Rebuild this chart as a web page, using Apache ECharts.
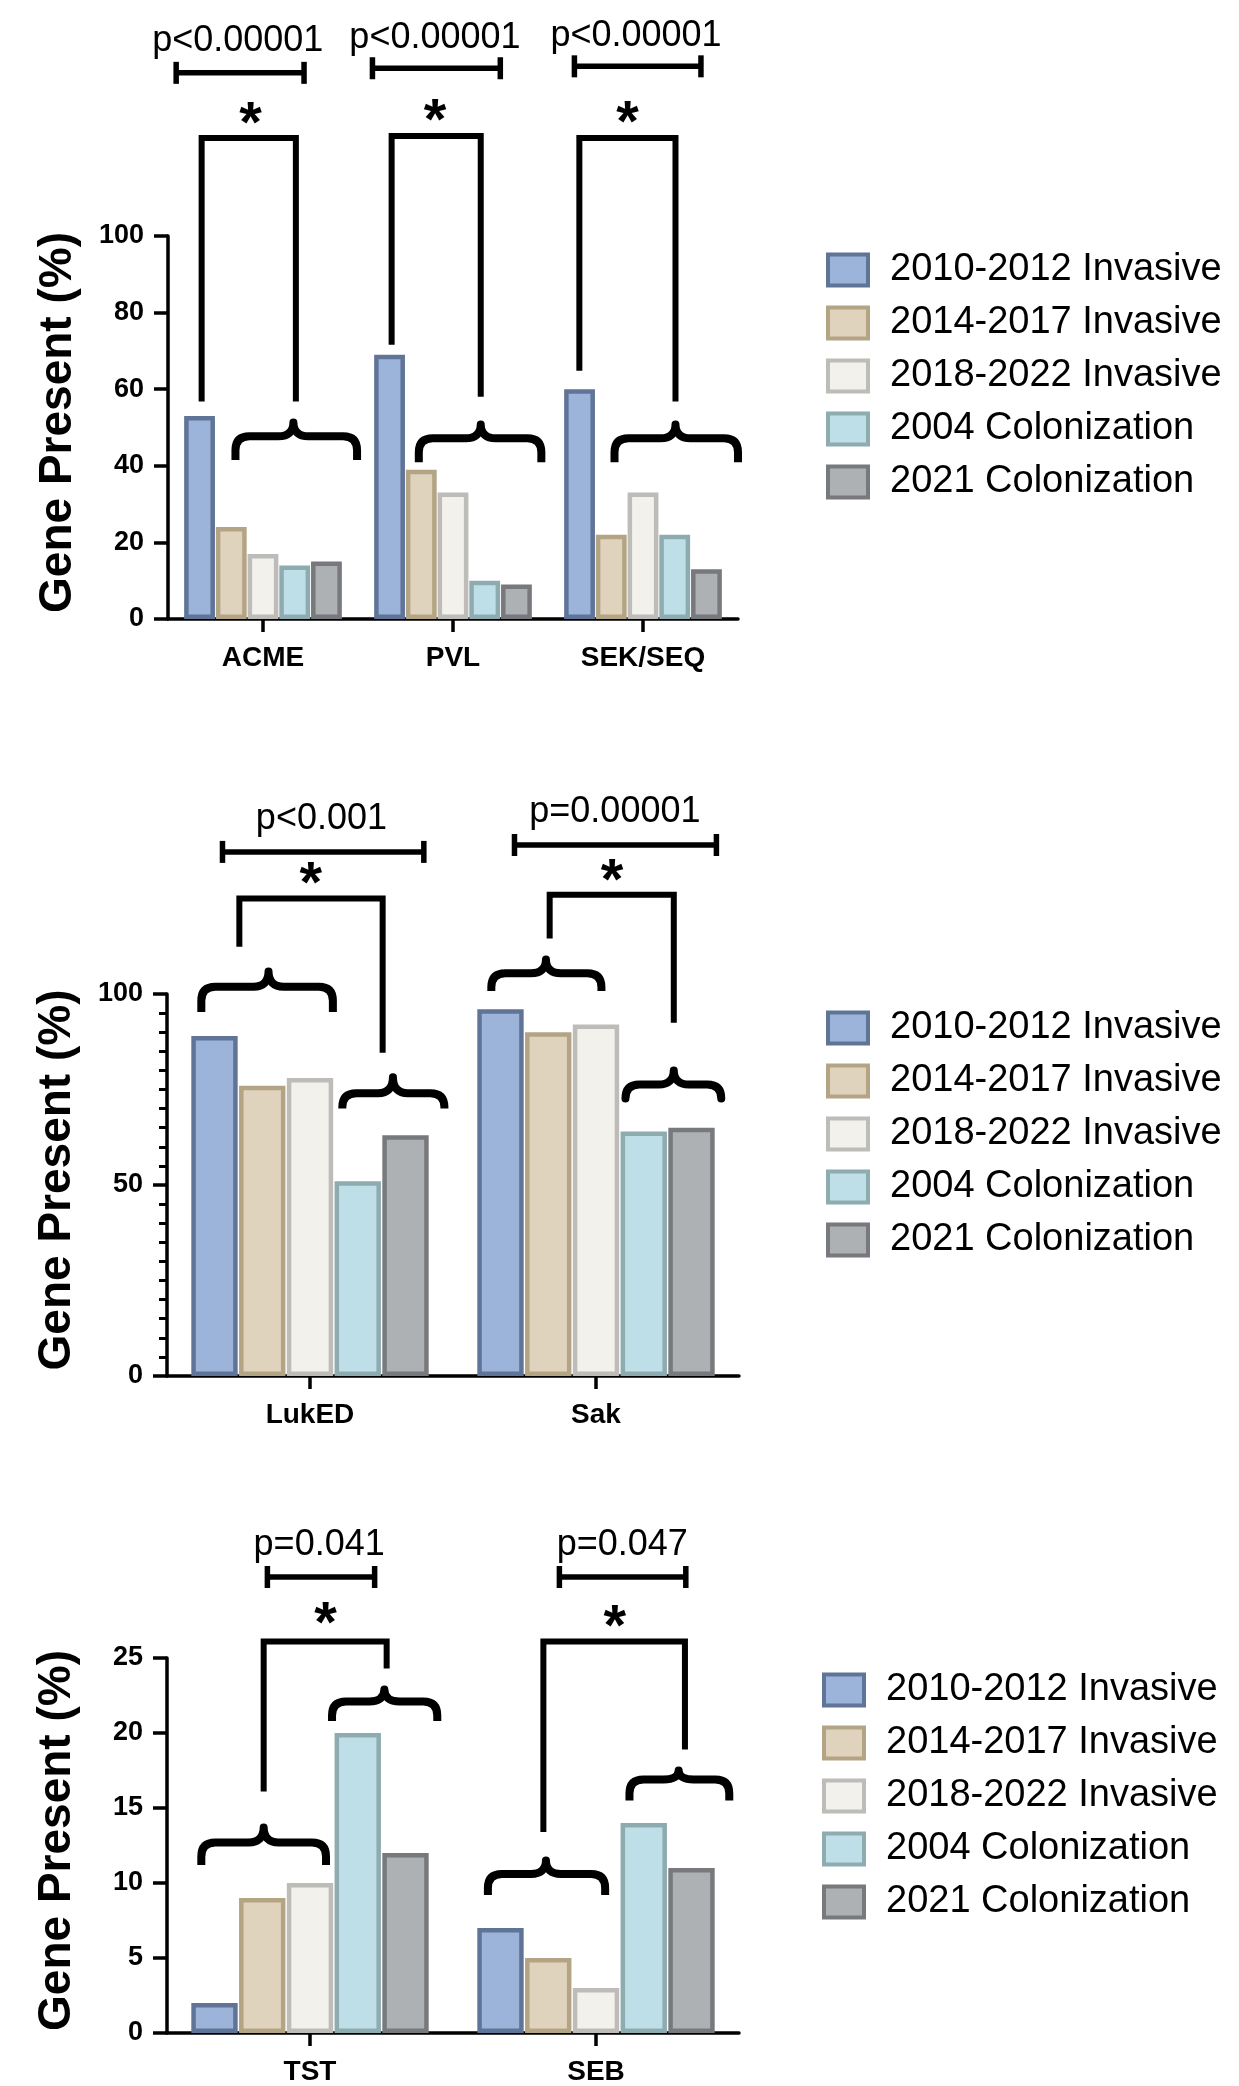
<!DOCTYPE html>
<html>
<head>
<meta charset="utf-8">
<script src="https://cdn.jsdelivr.net/npm/echarts@6/dist/echarts.min.js"></script>
<style>
html,body{margin:0;padding:0;background:#fff;}
#chart{width:1239px;height:2086px;}
</style>
</head>
<body>
<div id="chart"></div>
<script>
// ---------- data ----------
const seriesNames = ['2010-2012 Invasive','2014-2017 Invasive','2018-2022 Invasive','2004 Colonization','2021 Colonization'];

const categories1 = ['ACME','PVL','SEK/SEQ'];
const p1_inv2010 = [53, 69, 60];
const p1_inv2014 = [24, 39, 22];
const p1_inv2018 = [17, 33, 33];
const p1_col2004 = [14, 10, 22];
const p1_col2021 = [15, 9, 13];

const categories2 = ['LukED','Sak'];
const p2_inv2010 = [89, 96];
const p2_inv2014 = [76, 90];
const p2_inv2018 = [78, 92];
const p2_col2004 = [51, 64];
const p2_col2021 = [63, 65];

const categories3 = ['TST','SEB'];
const p3_inv2010 = [2, 7];
const p3_inv2014 = [9, 5];
const p3_inv2018 = [10, 3];
const p3_col2004 = [20, 14];
const p3_col2021 = [12, 11];

const yTicks1 = [0, 100, 20];
const yTicks2 = [0, 100, 50];
const yTicks3 = [0, 25, 5];

// annotations (category units on x, value units on y)
const pLabels1 = ['p<0.00001','p<0.00001','p<0.00001'];
const pText1 = [[0.367,151],[1.405,151.7],[2.463,152.3]];
const pLine1 = [[0.043,0.716,142.6],[1.076,1.749,143.8],[2.139,2.805,144.3]];
const stars1 = [[0.435,131.8],[1.405,132.6],[2.418,132]];
const brackets1 = [[0.177,0.673,125.6,56.8,56.8],[1.177,1.646,126.1,71.6,58],[2.165,2.671,125.6,64.8,56.8]];
const braces1 = [[0.355,0.995,0.66,41.5,47.7,51.3],[1.32,1.965,1.646,40.9,47.2,50.8],[2.35,3.0,2.671,40.9,47.2,50.8]];

const pLabels2 = ['p<0.001','p=0.00001'];
const pText2 = [[0.54,145.8],[1.566,147.5]];
const pLine2 = [[0.194,0.898,137.2],[1.215,1.921,139]];
const stars2 = [[0.503,131.3],[1.556,132]];
const brackets2 = [[0.253,0.754,125,112.4,84.6],[1.338,1.772,126,114.5,92.5]];
const braces2 = [[0.12,0.58,0.355,95.3,101.9,105.9],[0.613,0.97,0.79,70,74,78.2],[1.134,1.519,1.325,100.8,105.4,109],[1.603,1.938,1.772,72.9,76.3,80]];

const pLabels3 = ['p=0.041','p=0.047'];
const pText3 = [[0.532,32.5],[1.592,32.5]];
const pLine3 = [[0.351,0.726,30.4],[1.372,1.814,30.4]];
const stars3 = [[0.554,27.9],[1.566,27.7]];
const brackets3 = [[0.338,0.768,26.1,16.1,24.3],[1.316,1.811,26.1,13.4,18.9]];
const braces3 = [[0.12,0.556,0.338,11.2,12.7,13.7],[0.577,0.945,0.76,20.8,22.1,22.9],[1.122,1.532,1.325,9.2,10.6,11.5],[1.617,1.966,1.789,15.5,16.9,17.5]];

// ---------- styles ----------
const FONT = '"Liberation Sans", Arial, Helvetica, sans-serif';
const fills   = ['#9db4da','#e0d3be','#f3f1ec','#bfdfe8','#adb1b4'];
const borders = ['#5f7497','#b3a484','#bdbcb8','#8eabaf','#77797c'];

const panels = [
  {cats:categories1, vals:[p1_inv2010,p1_inv2014,p1_inv2018,p1_col2004,p1_col2021], ticks:yTicks1,
   grid:{left:168, top:236, width:570, height:383}, legend:{left:826, top:251},
   anno:{labels:pLabels1, text:pText1, line:pLine1, stars:stars1, brackets:brackets1, braces:braces1}},
  {cats:categories2, vals:[p2_inv2010,p2_inv2014,p2_inv2018,p2_col2004,p2_col2021], ticks:yTicks2,
   grid:{left:167, top:994, width:572, height:382}, legend:{left:826, top:1009}, minor:true,
   anno:{labels:pLabels2, text:pText2, line:pLine2, stars:stars2, brackets:brackets2, braces:braces2}},
  {cats:categories3, vals:[p3_inv2010,p3_inv2014,p3_inv2018,p3_col2004,p3_col2021], ticks:yTicks3,
   grid:{left:167, top:1658, width:572, height:379}, legend:{left:822, top:1671},
   anno:{labels:pLabels3, text:pText3, line:pLine3, stars:stars3, brackets:brackets3, braces:braces3}}
];

function makeAnno(a) {
  return function (params, api) {
    const ch = [];
    const X = v => api.coord([v, 0])[0];
    const Y = v => api.coord([0, v])[1];
    a.line.forEach(([x1, x2, y]) => {
      const xa = X(x1), xb = X(x2), yy = Y(y);
      const st = {stroke:'#000', lineWidth:5.5};
      ch.push({type:'line', shape:{x1:xa, y1:yy, x2:xb, y2:yy}, style:st});
      ch.push({type:'line', shape:{x1:xa, y1:yy-11, x2:xa, y2:yy+11}, style:st});
      ch.push({type:'line', shape:{x1:xb, y1:yy-11, x2:xb, y2:yy+11}, style:st});
    });
    a.text.forEach(([x, y], i) => {
      ch.push({type:'text', style:{text:a.labels[i], x:X(x), y:Y(y), align:'center', verticalAlign:'middle',
        fontSize:36, fontFamily:FONT, fill:'#000'}});
    });
    a.stars.forEach(([x, y]) => {
      const fs = 58;
      ch.push({type:'text', style:{text:'*', x:X(x), y:Y(y) + 0.2*fs, align:'center', verticalAlign:'middle',
        fontSize:fs, fontWeight:'bold', fontFamily:FONT, fill:'#000'}});
    });
    a.brackets.forEach(([xl, xr, top, bl, br]) => {
      ch.push({type:'polyline', shape:{points:[[X(xl),Y(bl)],[X(xl),Y(top)],[X(xr),Y(top)],[X(xr),Y(br)]]},
        style:{stroke:'#000', lineWidth:6, fill:'none', lineJoin:'miter'}});
    });
    a.braces.forEach(([L, R, P, yb, yh, yp]) => {
      const xl = X(L), xr = X(R), xp = X(P), yB = Y(yb), yH = Y(yh), yP = Y(yp);
      const r = 14, c = 15, h = yH - yP;
      const d = `M${xl} ${yB} L${xl} ${yH + r} Q${xl} ${yH} ${xl + r} ${yH} L${xp - c} ${yH} ` +
                `C${xp - c*0.35} ${yH} ${xp} ${yH - h*0.35} ${xp} ${yP} ` +
                `C${xp} ${yH - h*0.35} ${xp + c*0.35} ${yH} ${xp + c} ${yH} ` +
                `L${xr - r} ${yH} Q${xr} ${yH} ${xr} ${yH + r} L${xr} ${yB}`;
      ch.push({type:'path', shape:{pathData:d}, style:{stroke:'#000', lineWidth:8, fill:'none', lineJoin:'round'}});
    });
    return {type:'group', children:ch};
  };
}

const grid = [], xAxis = [], yAxis = [], series = [], legend = [];
panels.forEach((p, i) => {
  grid.push(p.grid);
  xAxis.push({type:'category', gridIndex:i, data:p.cats,
    axisLine:{show:true, lineStyle:{color:'#000', width:3.5}},
    axisTick:{show:true, alignWithLabel:true, length:13, lineStyle:{color:'#000', width:3.5}},
    axisLabel:{fontSize:28, fontWeight:'bold', fontFamily:FONT, color:'#000', margin:25},
    splitLine:{show:false}});
  const ya = {type:'value', gridIndex:i, min:p.ticks[0], max:p.ticks[1], interval:p.ticks[2],
    name:'Gene Present (%)', nameLocation:'middle', nameGap:87, nameRotate:90,
    nameTextStyle:{fontSize:46, fontWeight:'bold', fontFamily:FONT, color:'#000', padding:[0,0,0,10]},
    axisLine:{show:true, lineStyle:{color:'#000', width:3.5}},
    axisTick:{show:true, length:14, lineStyle:{color:'#000', width:3.5}},
    axisLabel:{fontSize:27, fontWeight:'bold', fontFamily:FONT, color:'#000', margin:24},
    splitLine:{show:false}};
  if (p.minor) {
    ya.minorTick = {show:true, splitNumber:10, length:8, lineStyle:{color:'#000', width:3}};
    ya.minorSplitLine = {show:false};
  }
  yAxis.push(ya);
  p.vals.forEach((v, s) => {
    series.push({type:'bar', name:seriesNames[s], xAxisIndex:i, yAxisIndex:i, data:v,
      barCategoryGap:'17%', barGap:'3%',
      itemStyle:{color:fills[s], borderColor:borders[s], borderWidth:4.5}});
  });
  legend.push({orient:'vertical', left:p.legend.left, top:p.legend.top, padding:0,
    itemWidth:40, itemHeight:31, itemGap:15, icon:'rect', selectedMode:false,
    textStyle:{fontSize:38, fontFamily:FONT, color:'#000', padding:[0,0,0,17]},
    data:seriesNames.map((n, s) => ({name:n, itemStyle:{color:fills[s], borderColor:borders[s], borderWidth:4}}))});
});
panels.forEach((p, i) => {
  xAxis.push({type:'value', gridIndex:i, min:0, max:p.cats.length, show:false});
});
panels.forEach((p, i) => {
  series.push({type:'custom', xAxisIndex:panels.length + i, yAxisIndex:i, data:[[0,0]],
    renderItem:makeAnno(p.anno), clip:false, silent:true, z:10});
});

const chart = echarts.init(document.getElementById('chart'), null, {renderer:'canvas'});
chart.setOption({animation:false, backgroundColor:'#fff', grid, xAxis, yAxis, series, legend});
</script>
</body>
</html>
